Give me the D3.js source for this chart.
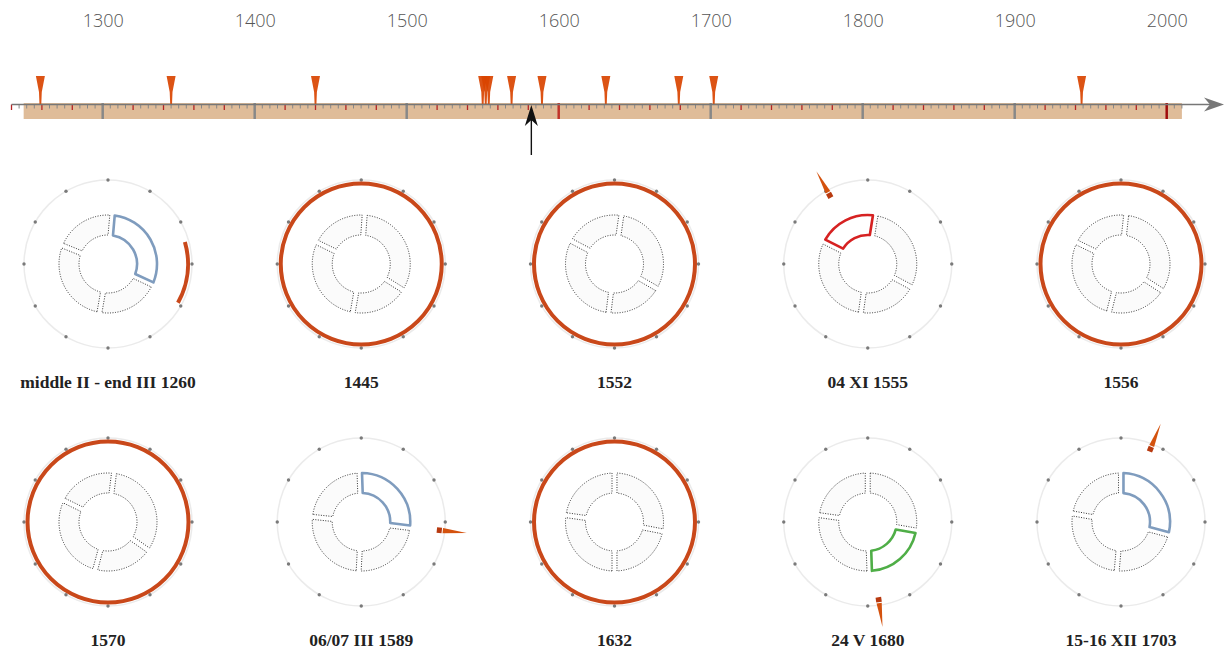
<!DOCTYPE html>
<html>
<head>
<meta charset="utf-8">
<script src="https://cdn.jsdelivr.net/npm/d3@7"></script>
<style>
  body { margin: 0; background: #fff; }
  svg { display: block; }
</style>
</head>
<body>
<script>
// timeline data
var centuries = [1300, 1400, 1500, 1600, 1700, 1800, 1900, 2000];
var markerYears = [1259, 1345, 1440, 1550, 1552, 1554, 1569, 1589, 1631, 1679, 1702, 1944];
var currentYear = 1582;

// one entry per small circle
var labels = ["middle II - end III 1260", "1445", "1552", "04 XI 1555", "1556",
              "1570", "06/07 III 1589", "1632", "24 V 1680", "15-16 XII 1703"];
var kinds = ["arc", "ring", "ring", "needle", "ring", "ring", "needle", "ring", "needle", "needle"];
var dateStart = [74, 0, 0, 331, 0, 0, 96, 0, 172, 22];   // degrees clockwise from top
var dateEnd = [119, 360, 360, 331, 360, 360, 96, 360, 172, 22];
var seasonBounds = [
  [5, 115, 190, 292], [4, 122, 190, 296], [8, 120, 187, 298], [9, 118, 188, 297], [6, 123, 194, 296],
  [7, 125, 195, 296], [-2, 97, 183, 276], [0, 101, 180, 278], [0, 100, 178, 278], [0, 105, 185, 280]
];
var highlightSeason = [0, -1, -1, 3, -1, -1, 0, -1, 1, 0];
var seasonColors = ["#7f9cbe", "#4fae47", "#e0e0e0", "#d62222"];

var w = 1226, h = 654;
var orange = "#c9481a", markerColor = "#d94400";

var svg = d3.select("body")
            .append("svg")
            .attr("width", w)
            .attr("height", h);

// ---------- timeline ----------
var x = d3.scaleLinear()
          .domain([1300, 2000])
          .range([102.7, 1166.7]);
var axisY = 104.5;

// tan band
svg.append("rect")
    .attr("x", x(1248))
    .attr("y", 103)
    .attr("width", x(2010) - x(1248))
    .attr("height", 16)
    .attr("fill", "#dfbc99");

// event markers
svg.append("g")
    .selectAll("path")
    .data(markerYears)
    .enter()
    .append("path")
    .attr("d", function(d) {
        var cx = x(d);
        return "M" + (cx - 4.5) + ",76L" + (cx + 4.5) + ",76L" + (cx + 1.4) + ",92L" + (cx + 0.9) + "," + axisY +
               "L" + (cx - 0.9) + "," + axisY + "L" + (cx - 1.4) + ",92Z";
    })
    .attr("fill", markerColor)
    .attr("opacity", 0.92);

// ticks every 5 years
var tickYears = d3.range(1240, 2011, 5);
svg.append("g")
    .selectAll("line")
    .data(tickYears)
    .enter()
    .append("line")
    .attr("x1", function(d) { return x(d); })
    .attr("x2", function(d) { return x(d); })
    .attr("y1", function(d) { return d % 100 === 0 ? 103 : axisY; })
    .attr("y2", function(d) {
        if (d % 100 === 0) return 119;
        if (d % 20 === 0) return 110;
        return 108.5;
    })
    .attr("stroke", function(d) {
        if (d === 2000) return "#a00c0c";
        if (d === 1600) return "#c0332a";
        if (d % 100 === 0) return "#888";
        if (d % 20 === 0) return "#b52424";
        return "#888";
    })
    .attr("stroke-width", function(d) { return d % 100 === 0 ? 2.5 : (d % 20 === 0 ? 1.3 : 1); });

// axis line with arrow head
svg.append("line")
    .attr("x1", x(1240))
    .attr("x2", 1212)
    .attr("y1", axisY)
    .attr("y2", axisY)
    .attr("stroke", "#777")
    .attr("stroke-width", 1.3);
svg.append("path")
    .attr("d", "M1224," + axisY + "L1204," + (axisY - 7) + "L1210," + axisY + "L1204," + (axisY + 7) + "Z")
    .attr("fill", "#777");

// century labels
var labelAxis = svg.append("g")
    .attr("transform", "translate(0,27)")
    .call(d3.axisTop(x).tickValues(centuries).tickFormat(d3.format("d")).tickSize(0).tickPadding(0));
labelAxis.select(".domain").remove();
labelAxis.selectAll("text")
    .attr("font-family", "'Open Sans', 'DejaVu Sans', sans-serif")
    .attr("font-weight", 300)
    .attr("font-size", 18)
    .attr("fill", "#555");

// current position arrow
var ax = x(currentYear);
svg.append("line")
    .attr("x1", ax).attr("x2", ax)
    .attr("y1", 118).attr("y2", 155)
    .attr("stroke", "#111")
    .attr("stroke-width", 1.4);
svg.append("path")
    .attr("d", "M" + ax + ",105L" + (ax + 6.5) + ",126L" + ax + ",120L" + (ax - 6.5) + ",126Z")
    .attr("fill", "#111");

// ---------- small circles ----------
var col = d3.scalePoint().domain(d3.range(5)).range([108, 1121]);
var row = d3.scalePoint().domain(d3.range(2)).range([264, 522]);
var rad = Math.PI / 180;
var ringR = 84;

var seasonArc = d3.arc()
    .innerRadius(29)
    .outerRadius(49)
    .padAngle(0.055)
    .padRadius(90);

var cells = svg.append("g")
    .selectAll("g.cell")
    .data(labels)
    .enter()
    .append("g")
    .attr("class", "cell")
    .attr("transform", function(d, i) { return "translate(" + col(i % 5) + "," + row(Math.floor(i / 5)) + ")"; });

// pale outer ring
cells.append("circle")
    .attr("r", ringR)
    .attr("fill", "none")
    .attr("stroke", "#ebebeb")
    .attr("stroke-width", 1.5);

// month dots
cells.each(function(d, i) {
    var g = d3.select(this);
    g.selectAll("circle.dot")
        .data(d3.range(12))
        .enter()
        .append("circle")
        .attr("class", "dot")
        .attr("cx", function(m) { return ringR * Math.sin(m * 30 * rad); })
        .attr("cy", function(m) { return -ringR * Math.cos(m * 30 * rad); })
        .attr("r", 1.7)
        .attr("fill", "#7a7a7a");

    // season donut
    var b = seasonBounds[i];
    var segs = [0, 1, 2, 3].map(function(k) {
        return { k: k, start: b[k] * rad, end: (k < 3 ? b[k + 1] : b[0] + 360) * rad };
    });
    g.selectAll("path.season")
        .data(segs)
        .enter()
        .append("path")
        .attr("class", "season")
        .attr("d", function(s) { return seasonArc({ startAngle: s.start, endAngle: s.end }); })
        .attr("fill", function(s) { return s.k === highlightSeason[i] ? "#fff" : "#fbfbfb"; })
        .attr("stroke", function(s) { return s.k === highlightSeason[i] ? seasonColors[s.k] : "#333"; })
        .attr("stroke-width", function(s) { return s.k === highlightSeason[i] ? 2.6 : 1; })
        .attr("stroke-dasharray", function(s) { return s.k === highlightSeason[i] ? null : "1,1.5"; })
        .attr("stroke-linejoin", "round");

    // date indicator
    if (kinds[i] === "ring") {
        g.append("circle")
            .attr("r", 80.5)
            .attr("fill", "none")
            .attr("stroke", orange)
            .attr("stroke-width", 4);
    } else if (kinds[i] === "arc") {
        g.append("path")
            .attr("d", d3.arc()({ innerRadius: 78, outerRadius: 82, startAngle: dateStart[i] * rad, endAngle: dateEnd[i] * rad }))
            .attr("fill", orange);
    } else {
        var a = dateStart[i] * rad;
        var ux = Math.sin(a), uy = -Math.cos(a), px = Math.cos(a), py = Math.sin(a);
        var pt = function(r, o) { return (r * ux + o * px) + "," + (r * uy + o * py); };
        g.append("path")
            .attr("d", "M" + pt(76, -2.8) + "L" + pt(81, -2.8) + "L" + pt(81, 2.8) + "L" + pt(76, 2.8) + "Z")
            .attr("fill", "#b83a10");
        g.append("path")
            .attr("d", "M" + pt(82, -2.6) + "L" + pt(106, 0) + "L" + pt(82, 2.6) + "Z")
            .attr("fill", "#d4520e");
    }
});

// labels under circles
cells.append("text")
    .attr("y", 124)
    .attr("text-anchor", "middle")
    .attr("font-family", "'Liberation Serif', 'DejaVu Serif', serif")
    .attr("font-weight", "bold")
    .attr("font-size", 17.5)
    .attr("fill", "#222")
    .text(function(d) { return d; });
</script>
</body>
</html>
